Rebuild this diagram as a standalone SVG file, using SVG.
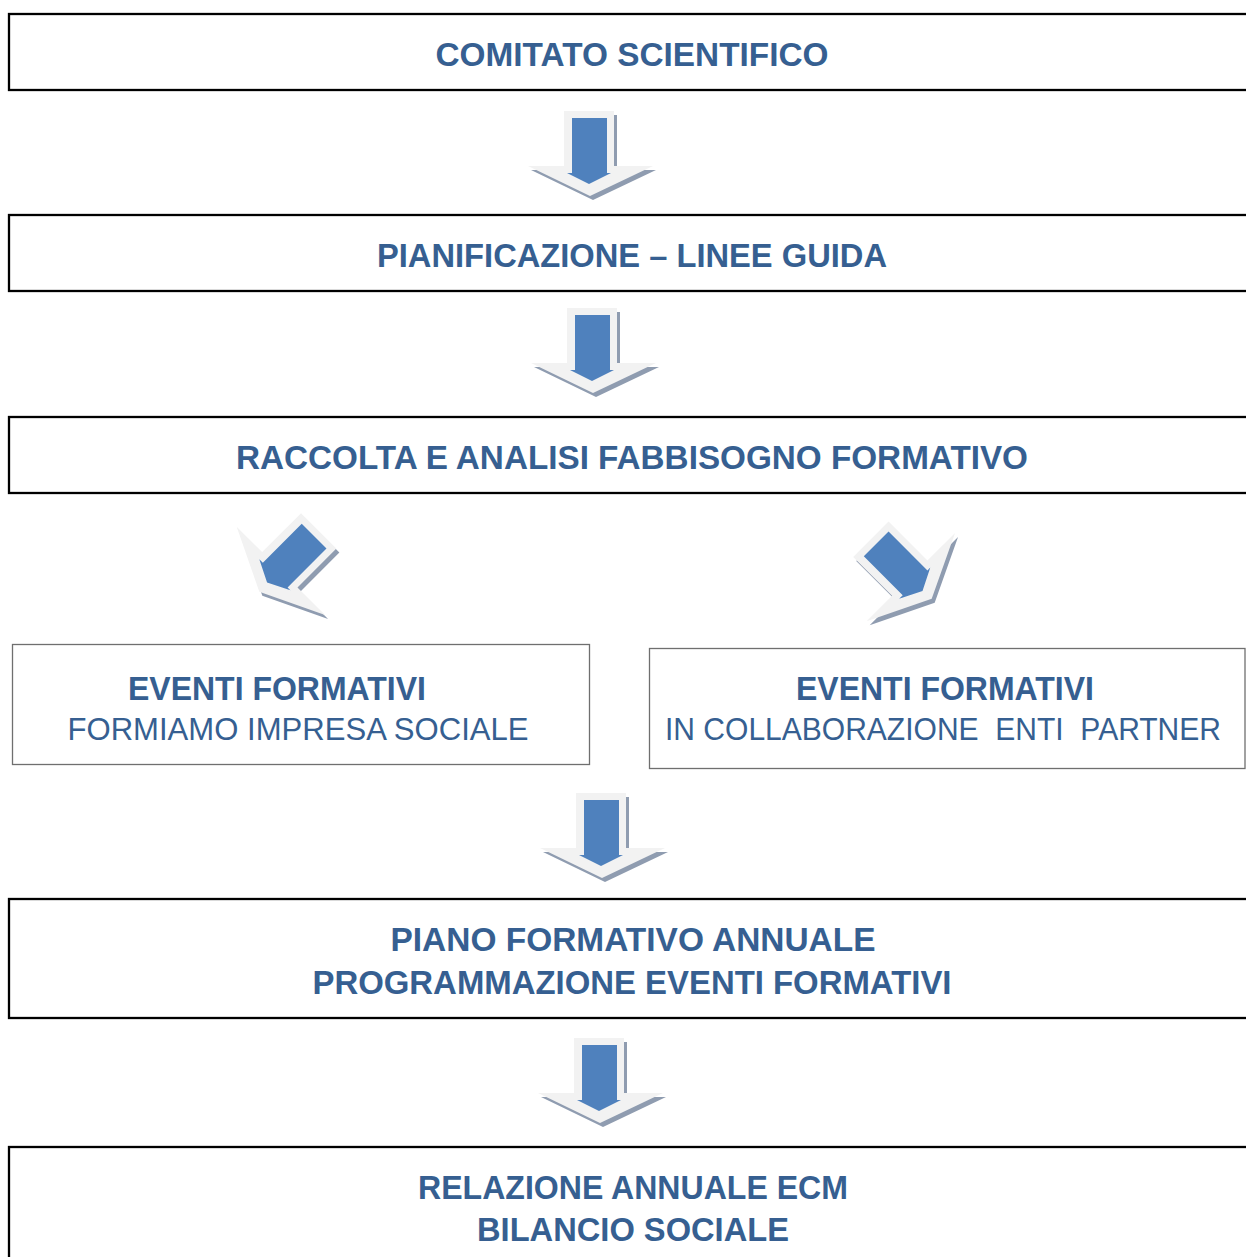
<svg xmlns="http://www.w3.org/2000/svg" xmlns:xlink="http://www.w3.org/1999/xlink" width="1246" height="1257" viewBox="0 0 1246 1257">
<style>
.box{fill:#ffffff;stroke:#000000;stroke-width:2.3}
.sbox{fill:#ffffff;stroke:#6f6f6f;stroke-width:1.3}
.t{font-family:"Liberation Sans",Arial,sans-serif;font-weight:bold;font-size:33px;fill:#365f91;text-anchor:middle}
.r{font-family:"Liberation Sans",Arial,sans-serif;font-weight:normal;font-size:32px;fill:#365f91;text-anchor:middle}
.lt{fill:#f2f2f2}
.sh{fill:#8f9cb0}
.bl{fill:#4f81bd}
</style>
<defs>
<polygon id="outer" points="-26,-43 24,-43 24,12 63,12 0,42 -62,12 -26,12"/>
<g id="arrowBody">
<use xlink:href="#outer" class="lt"/>
<polygon class="bl" points="-18,-36 17,-36 17,19 21,19 -1,30 -23,19 -18,19"/>
</g>
</defs>
<g id="connectors">
<g id="a1">
<g transform="translate(593,158)"><use xlink:href="#outer" class="sh"/></g>
<g transform="translate(590,154)"><use xlink:href="#arrowBody"/></g>
</g>
<g id="a2">
<g transform="translate(596,355)"><use xlink:href="#outer" class="sh"/></g>
<g transform="translate(593,351)"><use xlink:href="#arrowBody"/></g>
</g>
<g id="a3">
<g transform="translate(292,566) rotate(45)"><use xlink:href="#outer" class="sh"/></g>
<g transform="translate(289,562) rotate(45)"><use xlink:href="#arrowBody"/></g>
</g>
<g id="a4">
<g transform="translate(905,573) rotate(-45)"><use xlink:href="#outer" class="sh"/></g>
<g transform="translate(902,569) rotate(-45)"><use xlink:href="#arrowBody"/></g>
</g>
<g id="a5">
<g transform="translate(605,840)"><use xlink:href="#outer" class="sh"/></g>
<g transform="translate(602,836)"><use xlink:href="#arrowBody"/></g>
</g>
<g id="a6">
<g transform="translate(603,1085)"><use xlink:href="#outer" class="sh"/></g>
<g transform="translate(600,1081)"><use xlink:href="#arrowBody"/></g>
</g>
</g>
<g id="n1">
<rect class="box" x="9" y="14" width="1260" height="76"/>
<text class="t" x="632" y="66" textLength="393" lengthAdjust="spacingAndGlyphs">COMITATO SCIENTIFICO</text>
</g>
<g id="n2">
<rect class="box" x="9" y="215" width="1260" height="76"/>
<text class="t" x="632" y="267" textLength="510" lengthAdjust="spacingAndGlyphs">PIANIFICAZIONE – LINEE GUIDA</text>
</g>
<g id="n3">
<rect class="box" x="9" y="417" width="1260" height="76"/>
<text class="t" x="632" y="469" textLength="792" lengthAdjust="spacingAndGlyphs">RACCOLTA E ANALISI FABBISOGNO FORMATIVO</text>
</g>
<g id="n4">
<rect class="sbox" x="12.5" y="644.5" width="577" height="120"/>
<text class="t" x="277" y="700" textLength="298" lengthAdjust="spacingAndGlyphs">EVENTI FORMATIVI</text>
<text class="r" x="298" y="740" textLength="461" lengthAdjust="spacingAndGlyphs">FORMIAMO IMPRESA SOCIALE</text>
</g>
<g id="n5">
<rect class="sbox" x="649.5" y="648.5" width="595.5" height="120"/>
<text class="t" x="945" y="700" textLength="298" lengthAdjust="spacingAndGlyphs">EVENTI FORMATIVI</text>
<text class="r" x="943" y="740" textLength="556" lengthAdjust="spacingAndGlyphs" xml:space="preserve">IN COLLABORAZIONE  ENTI  PARTNER</text>
</g>
<g id="n6">
<rect class="box" x="9" y="899" width="1260" height="119"/>
<text class="t" x="633" y="951" textLength="485" lengthAdjust="spacingAndGlyphs">PIANO FORMATIVO ANNUALE</text>
<text class="t" x="632" y="994" textLength="639" lengthAdjust="spacingAndGlyphs">PROGRAMMAZIONE EVENTI FORMATIVI</text>
</g>
<g id="n7">
<rect class="box" x="9" y="1147" width="1260" height="130"/>
<text class="t" x="633" y="1199" textLength="430" lengthAdjust="spacingAndGlyphs">RELAZIONE ANNUALE ECM</text>
<text class="t" x="633" y="1241" textLength="312" lengthAdjust="spacingAndGlyphs">BILANCIO SOCIALE</text>
</g>
</svg>
